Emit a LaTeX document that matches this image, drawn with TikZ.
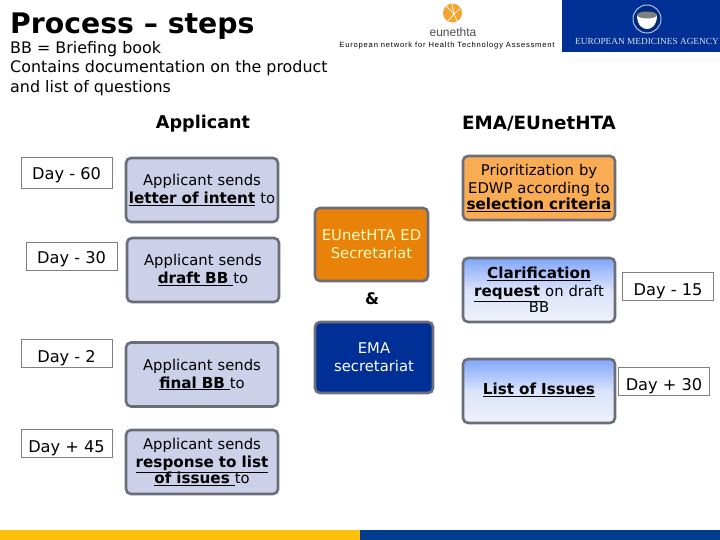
\documentclass[tikz,border=0pt]{standalone}
\usepackage{fontspec}
\setmainfont{DejaVu Sans}
\newfontfamily\logofont{Liberation Serif}
\newfontfamily\smallfont{Liberation Sans}
\newfontfamily\spacedfont[LetterSpace=10.5]{Liberation Sans}
\definecolor{framegray}{RGB}{107,110,122}
\definecolor{lilacfill}{RGB}{204,208,232}
\definecolor{lightorange}{RGB}{250,172,84}
\definecolor{darkorange}{RGB}{232,130,8}
\definecolor{emablue}{RGB}{0,48,150}
\definecolor{gradtop}{RGB}{128,166,250}
\definecolor{gradbottom}{RGB}{240,242,250}
\definecolor{barblue}{RGB}{0,61,145}
\definecolor{baryellow}{RGB}{255,192,10}
\definecolor{sunorange}{RGB}{245,165,45}
\tikzset{
  daybox/.style={draw=gray,line width=0.7pt,fill=white,font=\fontsize{16.2}{18}\selectfont,inner sep=0pt,minimum width=91pt,minimum height=28pt,text height=19pt,text depth=0pt},
  stepbox/.style={draw=framegray,line width=2.6pt,rounded corners=5pt,align=center,inner sep=0pt,minimum width=152pt,minimum height=64pt,text width=150pt,font=\fontsize{14.8}{16}\selectfont,execute at begin node={\lineskiplimit=-10pt\vspace*{2pt}}},
  applybox/.style={stepbox,fill=lilacfill},
  gradbox/.style={stepbox,top color=gradtop,bottom color=gradbottom,middle color=gradbottom!80!gradtop},
  secrbox/.style={stepbox,execute at begin node={},text width=112pt},
}
\newcommand{\bu}[1]{\underline{\fontsize{15.2}{16}\selectfont\textbf{#1}}}
\begin{document}
\begin{tikzpicture}[x=1pt,y=-1pt]
\useasboundingbox (0,0) rectangle (720,540);

% title block
\node[anchor=west,inner sep=0pt,font=\fontsize{28.3}{30}\bfseries\selectfont] (title) at (10,26) {Process – steps};
\node[anchor=north west,inner sep=0pt,align=left,font=\fontsize{15.9}{19.5}\selectfont] (intro) at (10,41) {BB = Briefing book\\Contains documentation on the product\\and list of questions};

% logos
\fill[sunorange] (452.5,13) circle (9.5);
\draw[white,line width=0.7pt] (446,6) -- (454,14) -- (448,21) (454,14) -- (460,9) (454,14) -- (457,21) (452,4) -- (454,14);
\node[inner sep=0pt,text=black!70,font=\smallfont\fontsize{12}{14}\selectfont] (eunetlogo) at (453,32) {eunethta};
\node[inner sep=0pt,font=\spacedfont\fontsize{7.6}{9}\selectfont] (eunetname) at (447,46) {European network for Health Technology Assessment};
\fill[emablue] (562,0) rectangle (720,52);
\draw[white!70!emablue,line width=1pt,fill=emablue!85!black] (647,19) circle (14);
\fill[white] (637,15) .. controls (641,19) and (653,19) .. (657,15) .. controls (657,26) and (651,29) .. (647,29) .. controls (643,29) and (637,26) .. (637,15);
\fill[gray] (647,15) ellipse (10 and 3.5);
\node[inner sep=0pt,text=white!85!emablue,font=\logofont\fontsize{9.3}{11}\selectfont] (emalogo) at (647,41) {EUROPEAN MEDICINES AGENCY};

% column headings
\node[font=\fontsize{17.6}{20}\bfseries\selectfont] (applicant) at (203,124) {Applicant};
\node[font=\fontsize{18.3}{20}\bfseries\selectfont] (emaeunet) at (539,124) {EMA/EUnetHTA};

% left column
\node[daybox,minimum height=31pt,text height=14pt] (d60) at (66.5,172.5) {Day - 60};
\node[daybox,text height=15pt] (d30) at (71.5,256) {Day - 30};
\node[daybox] (d2) at (66.5,353) {Day - 2};
\node[daybox] (d45) at (66.5,443) {Day + 45};
\node[applybox] (letter) at (202,190) {Applicant sends\\\bu{letter of intent} to};
\node[applybox] (draft) at (203,270) {Applicant sends\\\bu{draft BB\ }to};
\node[applybox] (final) at (202,374.5) {Applicant sends\\\bu{final BB\ }to};
\node[applybox] (response) at (202,462) {Applicant sends\\\bu{response to list}\\\bu{of issues\ }to};

% middle column
\node[secrbox,fill=darkorange,text=white!75!yellow,minimum width=113pt,minimum height=73pt] (edsecr) at (371.5,244.5) {EUnetHTA ED\\Secretariat};
\node[font=\fontsize{16}{18}\bfseries\selectfont] (amp) at (372,299) {\&};
\node[secrbox,fill=emablue,text=white,minimum width=118pt,minimum height=71pt] (emasecr) at (374,357.5) {EMA\\secretariat};

% right column
\node[stepbox,fill=lightorange] (prior) at (539,188) {Prioritization by\\EDWP according to\\\bu{selection criteria}};
\node[gradbox] (clar) at (539,290) {\bu{Clarification}\\\bu{request\ }on draft\\BB};
\node[gradbox] (issues) at (539,391) {\bu{List of Issues}};
\node[daybox] (d15) at (668,286) {Day - 15};
\node[daybox] (dp30) at (664,381) {Day + 30};

% bottom bar
\fill[baryellow] (0,530) rectangle (360,540);
\fill[barblue] (360,530) rectangle (720,540);
\end{tikzpicture}
\end{document}
